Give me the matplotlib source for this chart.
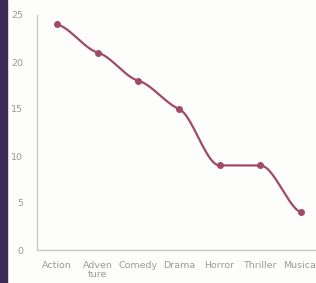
import numpy as np
import matplotlib
matplotlib.use("Agg")
import matplotlib.pyplot as plt
from matplotlib.patches import Rectangle

categories = ["Action", "Adven\nture", "Comedy", "Drama", "Horror", "Thriller", "Musical"]
values = [24, 21, 18, 15, 9, 9, 4]
yticks = [0, 5, 10, 15, 20, 25]

line_color = "#a04b66"
bg = "#fdfdfb"
grey = "#9a9a9a"


def smooth_curve(x, y, k=0.4, n=40):
    x = np.asarray(x, float); y = np.asarray(y, float)
    h = np.diff(x); d = np.diff(y) / h
    m = np.zeros_like(y)
    m[0] = k * d[0]; m[-1] = k * d[-1]
    for i in range(1, len(y) - 1):
        if d[i - 1] * d[i] <= 0:
            m[i] = 0
        else:
            m[i] = k * (d[i - 1] + d[i]) / 2
    xs, ys = [], []
    for i in range(len(x) - 1):
        t = np.linspace(0, 1, n)
        h00 = 2*t**3 - 3*t**2 + 1; h10 = t**3 - 2*t**2 + t
        h01 = -2*t**3 + 3*t**2; h11 = t**3 - t**2
        xs.append(x[i] + t * h[i])
        ys.append(h00*y[i] + h10*h[i]*m[i] + h01*y[i+1] + h11*h[i]*m[i+1])
    return np.concatenate(xs), np.concatenate(ys)


W, H = 316, 283
fig = plt.figure(figsize=(W/100, H/100), dpi=100, facecolor=bg)
fig.patches.append(Rectangle((0, 0), 6.5/W, 1, transform=fig.transFigure, color="#3b2b55", zorder=0))

x0, x1 = 37, 321
ax = fig.add_axes([x0/W, 33/H, (x1-x0)/W, 235/H])
ax.set_facecolor(bg)
xpos = np.arange(len(categories))
ax.set_xlim(-0.5, len(categories) - 0.5)
ax.set_ylim(0, 25)

cx, cy = smooth_curve(xpos, values)
ax.plot(cx, cy, color=line_color, lw=1.6, solid_capstyle="round", clip_on=False)
ax.plot(xpos, values, "o", color=line_color, ms=4.0, clip_on=False)

for s in ["top", "right"]:
    ax.spines[s].set_visible(False)
for s in ["left", "bottom"]:
    ax.spines[s].set_color("#c8c8c8")
    ax.spines[s].set_linewidth(1.0)

ax.set_xticks(xpos)
ax.set_xticklabels(categories, fontsize=6.8, color=grey, linespacing=1.0)
ax.set_yticks(yticks)
ax.set_yticklabels([str(v) for v in yticks], fontsize=6.8, color=grey)
ax.tick_params(axis="both", length=0)
ax.tick_params(axis="x", pad=8)
ax.tick_params(axis="y", pad=10)

fig.savefig("out.png", dpi=100, facecolor=bg)
